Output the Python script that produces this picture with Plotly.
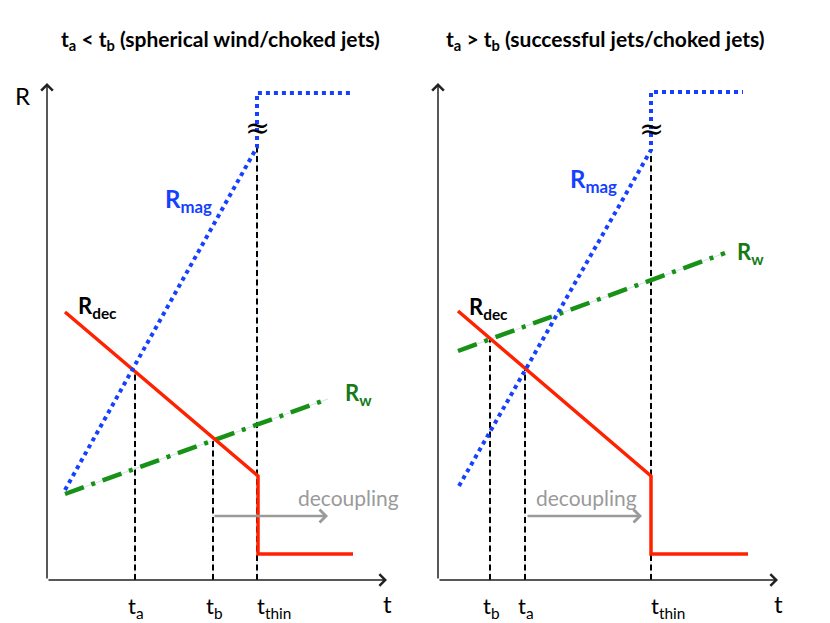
import plotly.graph_objects as go

FONT = "Lato"
BLUE = "#1540ff"
RED = "#ff2200"
GREEN = "#179217"
GREEN_TXT = "#167a16"
GRAY = "#9a9a9a"
FAINT = "#d0e0ee"

# ---------------- data (schematic units; t to the right, R upward) ----------------
# Left panel: t_a < t_b
L_RMAG_T = [18, 210, 210, 303]
L_RMAG_R = [90, 433, 487, 487]
L_RDEC_T = [18, 211, 211, 306]
L_RDEC_R = [268, 104, 26, 26]
L_RW_T = [18, 281]
L_RW_R = [86, 181]
L_MARK_T = [88, 166, 210]          # t_a, t_b, t_thin
L_MARK_R = [210, 140, 433]         # top of dashed guide lines
L_MARK_LBL = ["t<sub>a</sub>", "t<sub>b</sub>", "t<sub>thin</sub>"]
L_DECOUPLE_T = [166, 281]
L_DECOUPLE_R = 64

# Right panel: t_a > t_b
R_RMAG_T = [21, 213, 213, 305]
R_RMAG_R = [94, 430, 488, 488]
R_RDEC_T = [20, 213, 213, 310]
R_RDEC_R = [269, 104, 26, 26]
R_RW_T = [20, 287]
R_RW_R = [229, 327]
R_MARK_T = [52, 87, 213]           # t_b, t_a, t_thin
R_MARK_R = [241, 210, 430]
R_MARK_LBL = ["t<sub>b</sub>", "t<sub>a</sub>", "t<sub>thin</sub>"]
R_DECOUPLE_T = [88, 204]
R_DECOUPLE_R = 64

AXIS_T_MAX = 340
AXIS_R_MAX = 497

TITLES = ["<b>t<sub>a</sub> &lt; t<sub>b</sub> (spherical wind/choked jets)</b>",
          "<b>t<sub>a</sub> &gt; t<sub>b</sub> (successful jets/choked jets)</b>"]

fig = go.Figure()


def line(t, r, color, width, dash, ax):
    fig.add_trace(go.Scatter(x=t, y=r, mode="lines", hoverinfo="skip",
                             line=dict(color=color, width=width, dash=dash),
                             xaxis="x" + ax, yaxis="y" + ax, showlegend=False))


def panel(ax, rmag, rdec, rw, marks, dec_t, dec_r, labels):
    xa, ya = "x" + ax, "y" + ax
    # dashed guides
    for t, r in zip(marks[0], marks[1]):
        line([t, t], [0, r], FAINT, 1, "solid", ax)
        line([t, t], [0, r], "black", 2, "6px,3.5px", ax)
    # curves
    line(rw[0], rw[1], FAINT, 1, "solid", ax)
    line(rw[0], rw[1], GREEN, 4.5, "20px,8px,4px,8px", ax)
    line(rdec[0], rdec[1], RED, 3.5, "solid", ax)
    line(rmag[0], rmag[1], BLUE, 4, "dot", ax)
    # axes arrows
    fig.add_annotation(x=0, y=AXIS_R_MAX, ax=0, ay=0, xref=xa, yref=ya, axref=xa, ayref=ya,
                       text="", showarrow=True, arrowhead=4, arrowsize=1.5, arrowwidth=1.5,
                       arrowcolor="#222", standoff=0)
    fig.add_annotation(x=AXIS_T_MAX, y=0, ax=0, ay=0, xref=xa, yref=ya, axref=xa, ayref=ya,
                       text="", showarrow=True, arrowhead=4, arrowsize=1.5, arrowwidth=1.5,
                       arrowcolor="#222", standoff=0)
    # decoupling arrow
    fig.add_annotation(x=dec_t[1], y=dec_r, ax=dec_t[0], ay=dec_r, xref=xa, yref=ya,
                       axref=xa, ayref=ya, text="", showarrow=True, arrowhead=4,
                       arrowsize=1.0, arrowwidth=2.5, arrowcolor=GRAY, standoff=0)
    fig.add_annotation(x=(dec_t[0] + dec_t[1]) / 2 + labels["dec_dx"], y=dec_r + 19, xref=xa, yref=ya,
                       text="decoupling", showarrow=False,
                       font=dict(family=FONT, size=21, color=GRAY))
    # axis letters
    fig.add_annotation(x=-25, y=485, xref=xa, yref=ya, text="R", showarrow=False,
                       font=dict(family=FONT, size=24, color="black"))
    fig.add_annotation(x=AXIS_T_MAX, y=-23, xref=xa, yref=ya, text="t", showarrow=False,
                       font=dict(family=FONT, size=24, color="black"))
    # tick labels
    for t, lbl in zip(marks[0], marks[2]):
        if "thin" in lbl:
            fig.add_annotation(x=t - 2, y=-27, xref=xa, yref=ya, text=lbl, showarrow=False,
                               xanchor="left", font=dict(family=FONT, size=22, color="black"))
        else:
            fig.add_annotation(x=t + 1, y=-27, xref=xa, yref=ya, text=lbl, showarrow=False,
                               font=dict(family=FONT, size=22, color="black"))
    # break mark
    fig.add_annotation(x=rmag[0][1], y=labels["brk"], xref=xa, yref=ya, text="≈", showarrow=False,
                       font=dict(family="DejaVu Serif", size=30, color="black"))
    # series labels
    fig.add_annotation(x=labels["mag"][0], y=labels["mag"][1], xref=xa, yref=ya,
                       text="<b>R<sub>mag</sub></b>", showarrow=False, xanchor="left",
                       font=dict(family=FONT, size=24, color=BLUE))
    fig.add_annotation(x=labels["dec"][0], y=labels["dec"][1], xref=xa, yref=ya,
                       text="<b>R<sub>dec</sub></b>", showarrow=False, xanchor="left",
                       font=dict(family=FONT, size=22, color="black"))
    fig.add_annotation(x=labels["w"][0], y=labels["w"][1], xref=xa, yref=ya,
                       text="<b>R<sub>w</sub></b>", showarrow=False, xanchor="left",
                       font=dict(family=FONT, size=22, color=GREEN_TXT))


panel("", (L_RMAG_T, L_RMAG_R), (L_RDEC_T, L_RDEC_R), (L_RW_T, L_RW_R),
      (L_MARK_T, L_MARK_R, L_MARK_LBL), L_DECOUPLE_T, L_DECOUPLE_R,
      dict(mag=(116, 380), dec=(29, 273), w=(296, 186), brk=453, dec_dx=78))
panel("2", (R_RMAG_T, R_RMAG_R), (R_RDEC_T, R_RDEC_R), (R_RW_T, R_RW_R),
      (R_MARK_T, R_MARK_R, R_MARK_LBL), R_DECOUPLE_T, R_DECOUPLE_R,
      dict(mag=(130, 400), dec=(29, 272), w=(297, 327), brk=452, dec_dx=2))

for xpos, title in zip([220 / 830, 605 / 830], TITLES):
    fig.add_annotation(x=xpos, y=1 - 40 / 623, xref="paper", yref="paper", text=title,
                       xanchor="center", yanchor="middle",
                       showarrow=False, font=dict(family=FONT, size=21, color="black"))

ax_common = dict(visible=False, showgrid=False, zeroline=False, fixedrange=True)
fig.update_layout(
    width=830, height=623, margin=dict(l=0, r=0, t=0, b=0),
    paper_bgcolor="white", plot_bgcolor="white", showlegend=False,
    xaxis=dict(domain=[0, 0.5], range=[-47, 368], **ax_common),
    yaxis=dict(domain=[0, 1], range=[-43, 580], **ax_common),
    xaxis2=dict(domain=[0.5, 1], range=[-23, 392], **ax_common),
    yaxis2=dict(domain=[0, 1], range=[-43, 580], anchor="x2", **ax_common),
)

fig.write_html("out.html", config={"displayModeBar": False},
               post_script="document.body.style.margin='0';document.body.style.overflow='hidden';")
